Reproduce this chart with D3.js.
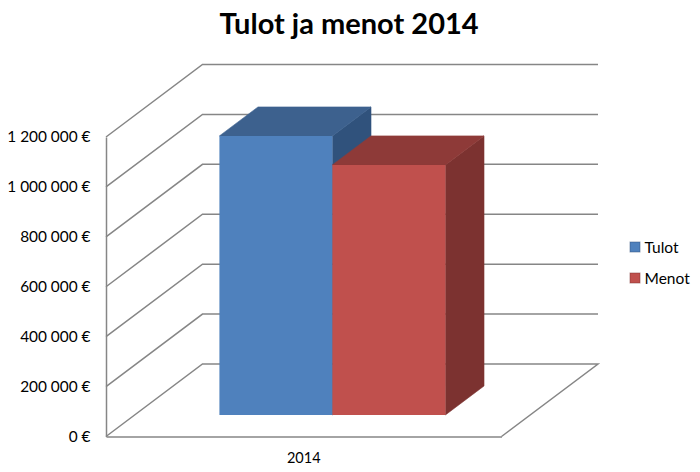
<!DOCTYPE html>
<html>
<head>
<meta charset="utf-8">
<script src="https://cdn.jsdelivr.net/npm/d3@7"></script>
<style>
  html, body { margin: 0; padding: 0; background: #fff; }
  svg { display: block; }
  text { font-family: Lato, "Open Sans", sans-serif; fill: #000; }
</style>
</head>
<body>
<div id="chart"></div>
<script>
const title = 'Tulot ja menot 2014';
const categories = ['2014'];
const seriesNames = ['Tulot', 'Menot'];
const seriesValues = [1118000, 1002000];
const frontColors = ['#4f81bd', '#c0504d'];
const topColors = ['#3d618e', '#8e3a38'];
const sideColors = ['#30527c', '#7c3230'];
const yTicks = [0, 200000, 400000, 600000, 800000, 1000000, 1200000];

const width = 700, height = 472;
const gridColor = '#868686';

const svg = d3.select('#chart').append('svg')
    .attr('width', width)
    .attr('height', height);

// floor plane, front edge
const x0 = 106, x1 = 501.5;
const y = d3.scaleLinear().domain([0, 1200000]).range([436.5, 137]);
const xCat = d3.scaleBand().domain(categories).range([x0, x1]);
const xBar = d3.scaleBand().domain(seriesNames).range([x0, x1])
    .paddingInner(0).paddingOuter(0.75);

// depth: t = 0 is the front of the floor, t = 1 the back wall
const depthX = d3.scaleLinear().domain([0, 1]).range([0, 96.5]);
const depthY = d3.scaleLinear().domain([0, 1]).range([0, -72.5]);
const project = (x, v, t) => [x + depthX(t), y(v) + depthY(t)];
const barFront = 0.297, barBack = 0.697;
const poly = pts => d3.line()(pts) + 'Z';

// grid lines
const grid = svg.append('g')
    .attr('fill', 'none')
    .attr('stroke', gridColor)
    .attr('stroke-width', 1.5);

yTicks.forEach(v => {
    const pts = [project(x0, v, 0), project(x0, v, 1), project(x1, v, 1)];
    if (v === 0) pts.push(project(x1, v, 0));
    grid.append('path').attr('d', d3.line()(pts));
});

// bars, left to right so the red top covers the lower part of the blue side
const bars = svg.append('g');
seriesNames.forEach((name, i) => {
    const v = seriesValues[i];
    const l = xBar(name), r = l + xBar.bandwidth();
    const g = bars.append('g').attr('stroke-width', 0.6);
    // right side
    g.append('path')
        .attr('d', poly([project(r, 0, barFront), project(r, 0, barBack), project(r, v, barBack), project(r, v, barFront)]))
        .attr('fill', sideColors[i]).attr('stroke', sideColors[i]);
    // top
    g.append('path')
        .attr('d', poly([project(l, v, barFront), project(l, v, barBack), project(r, v, barBack), project(r, v, barFront)]))
        .attr('fill', topColors[i]).attr('stroke', topColors[i]);
    // front
    g.append('path')
        .attr('d', poly([project(l, v, barFront), project(r, v, barFront), project(r, 0, barFront), project(l, 0, barFront)]))
        .attr('fill', frontColors[i]);
});

// value axis
const yAxis = svg.append('g')
    .attr('transform', `translate(${x0},0)`)
    .call(d3.axisLeft(y).tickValues(yTicks).tickSize(0).tickPadding(15.5)
        .tickFormat(d => d3.format(',')(d).replace(/,/g, ' ') + ' €'));
yAxis.select('.domain').attr('stroke', gridColor).attr('stroke-width', 1.5);
yAxis.selectAll('text').style('font-size', '15.4px').style('font-family', 'Lato');

// category axis
const xAxis = svg.append('g')
    .attr('transform', `translate(0,${y(0)})`)
    .call(d3.axisBottom(xCat).tickSize(0).tickPadding(16));
xAxis.select('.domain').attr('stroke', gridColor).attr('stroke-width', 1.5);
xAxis.selectAll('text').style('font-size', '14.5px').style('font-family', 'Lato');

// title
svg.append('text')
    .attr('x', 349)
    .attr('y', 34)
    .attr('text-anchor', 'middle')
    .style('font-size', '29px')
    .style('font-weight', 700)
    .text(title);

// legend
const legendY = d3.scalePoint().domain(seriesNames).range([247, 278]);
const legend = svg.append('g').selectAll('g').data(seriesNames).join('g')
    .attr('transform', d => `translate(630,${legendY(d)})`);
legend.append('rect')
    .attr('x', 0).attr('y', -5)
    .attr('width', 10).attr('height', 10)
    .attr('fill', (d, i) => frontColors[i])
    .attr('stroke', (d, i) => sideColors[i]).attr('stroke-opacity', 0.5);
legend.append('text')
    .attr('x', 14.5).attr('y', 5.5)
    .style('font-size', '15.5px')
    .text(d => d);
</script>
</body>
</html>
